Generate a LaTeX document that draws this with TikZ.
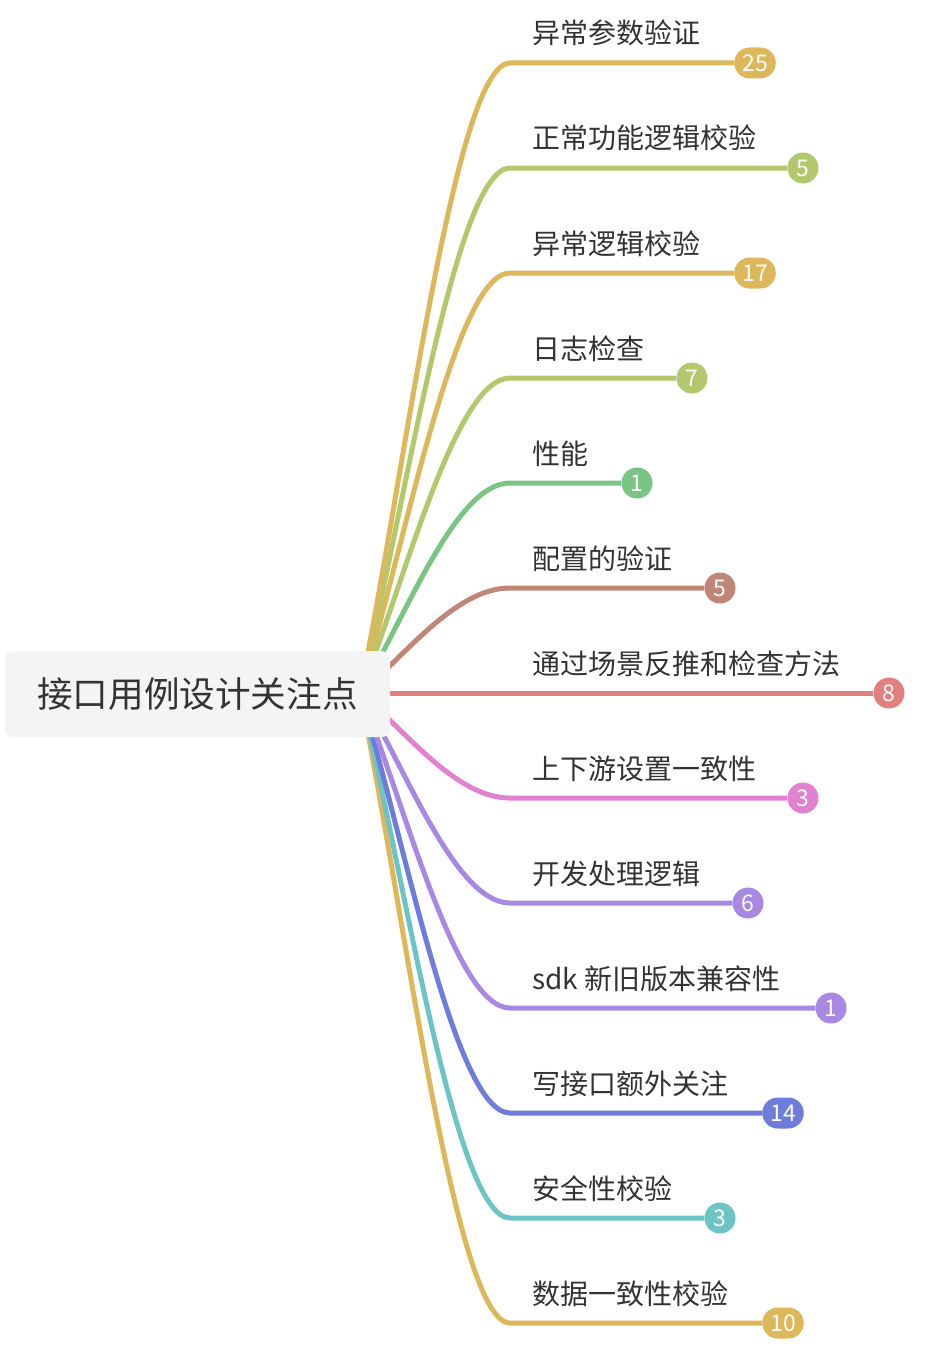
\documentclass[tikz,border=0pt]{standalone}
\usepackage{fontspec}
\setmainfont{Noto Sans CJK SC}
\usepackage{xcolor}
\usepackage{tikz}
\usetikzlibrary{calc}
\definecolor{ink}{RGB}{51,51,51}
\definecolor{rootgray}{RGB}{244,244,244}
\definecolor{gold}{RGB}{222,183,90}
\definecolor{leaf}{RGB}{178,200,108}
\definecolor{mint}{RGB}{122,196,132}
\definecolor{clay}{RGB}{192,134,118}
\definecolor{coral}{RGB}{226,128,128}
\definecolor{orchid}{RGB}{226,128,210}
\definecolor{lilac}{RGB}{168,136,226}
\definecolor{indigo}{RGB}{110,124,220}
\definecolor{teal}{RGB}{108,196,196}
\pgfdeclarelayer{bg}
\pgfsetlayers{bg,main}

\begin{document}
\begin{tikzpicture}[x=1pt,y=-1pt,
  root/.style={rectangle,rounded corners=8pt,fill=rootgray,text=ink,minimum width=385pt,minimum height=86pt,font=\fontsize{35.6}{40}\selectfont},
  topic/.style={anchor=base west,inner sep=0pt,text=ink,font=\fontsize{28}{32}\selectfont},
  badge/.style={rectangle,rounded corners=15.5pt,fill=#1,text=white,minimum width=31pt,minimum height=31pt,inner xsep=8pt,inner ysep=0pt,font=\fontsize{23}{26}\selectfont},
  branch/.style={draw=#1,line width=5pt},
  curve/.style={to path={.. controls ($(\tikztostart)!.35!(\tikztostart |- \tikztotarget)+(45,0)$) and ($(\tikztotarget)+(-55,0)$) .. (\tikztotarget)}}
]
\useasboundingbox (0,0) rectangle (948,1370);
\node[root] (root) at (197.5,694) {接口用例设计关注点};
\coordinate (hub) at (360,693);

% topics
\node[topic] (t1) at (532,44) {异常参数验证};
\node[topic] (t2) at (532,149) {正常功能逻辑校验};
\node[topic] (t3) at (532,254) {异常逻辑校验};
\node[topic] (t4) at (532,359) {日志检查};
\node[topic] (t5) at (532,464) {性能};
\node[topic] (t6) at (532,569) {配置的验证};
\node[topic] (t7) at (532,674) {通过场景反推和检查方法};
\node[topic] (t8) at (532,779) {上下游设置一致性};
\node[topic] (t9) at (532,884) {开发处理逻辑};
\node[topic] (t10) at (532,989) {sdk 新旧版本兼容性};
\node[topic] (t11) at (532,1094) {写接口额外关注};
\node[topic] (t12) at (532,1199) {安全性校验};
\node[topic] (t13) at (532,1304) {数据一致性校验};

% counts
\node[badge=gold] (n1) at (755,63) {25};
\node[badge=leaf] (n2) at (803,168) {5};
\node[badge=gold] (n3) at (755,273) {17};
\node[badge=leaf] (n4) at (692,378) {7};
\node[badge=mint] (n5) at (637,483) {1};
\node[badge=clay] (n6) at (720,588) {5};
\node[badge=coral] (n7) at (889,693) {8};
\node[badge=orchid] (n8) at (803,798) {3};
\node[badge=lilac] (n9) at (748,903) {6};
\node[badge=lilac] (n10) at (831,1008) {1};
\node[badge=indigo] (n11) at (783,1113) {14};
\node[badge=teal] (n12) at (720,1218) {3};
\node[badge=gold] (n13) at (783,1323) {10};

\coordinate (e1) at (510,63);
\coordinate (e2) at (510,168);
\coordinate (e3) at (510,273);
\coordinate (e4) at (510,378);
\coordinate (e5) at (510,483);
\coordinate (e6) at (510,588);
\coordinate (e8) at (510,798);
\coordinate (e9) at (510,903);
\coordinate (e10) at (510,1008);
\coordinate (e11) at (510,1113);
\coordinate (e12) at (510,1218);
\coordinate (e13) at (510,1323);

\begin{pgfonlayer}{bg}
\draw[branch=gold] (hub) to[curve] (e13) -- (n13);
\draw[branch=teal] (hub) to[curve] (e12) -- (n12);
\draw[branch=indigo] (hub) to[curve] (e11) -- (n11);
\draw[branch=lilac] (hub) to[curve] (e10) -- (n10);
\draw[branch=lilac] (hub) to[curve] (e9) -- (n9);
\draw[branch=orchid] (hub) to[curve] (e8) -- (n8);
\draw[branch=coral] (hub) -- (n7);
\draw[branch=clay] (hub) to[curve] (e6) -- (n6);
\draw[branch=mint] (hub) to[curve] (e5) -- (n5);
\draw[branch=leaf] (hub) to[curve] (e4) -- (n4);
\draw[branch=gold] (hub) to[curve] (e3) -- (n3);
\draw[branch=leaf] (hub) to[curve] (e2) -- (n2);
\draw[branch=gold] (hub) to[curve] (e1) -- (n1);
\end{pgfonlayer}
\end{tikzpicture}
\end{document}
